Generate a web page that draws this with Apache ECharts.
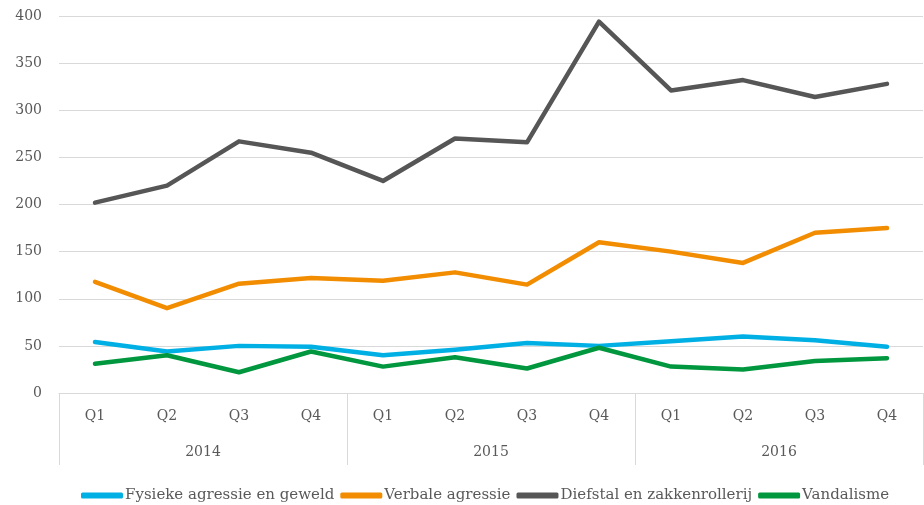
<!DOCTYPE html>
<html>
<head>
<meta charset="utf-8">
<script src="https://cdn.jsdelivr.net/npm/echarts@6/dist/echarts.min.js"></script>
<style>
  html, body { margin: 0; padding: 0; background: #fff; }
  #chart { width: 924px; height: 505px; }
</style>
</head>
<body>
<div id="chart"></div>
<script>
// quarters per year, and the years under them
var quarters = ['Q1', 'Q2', 'Q3', 'Q4', 'Q1', 'Q2', 'Q3', 'Q4', 'Q1', 'Q2', 'Q3', 'Q4'];
var years = ['2014', '2015', '2016'];

var fysiek = [54, 44, 50, 49, 40, 46, 53, 50, 55, 60, 56, 49];
var verbaal = [118, 90, 116, 122, 119, 128, 115, 160, 150, 138, 170, 175];
var diefstal = [202, 220, 267, 255, 225, 270, 266, 394, 321, 332, 314, 328];
var vandalisme = [31, 40, 22, 44, 28, 38, 26, 48, 28, 25, 34, 37];

var font = 'DejaVu Serif';
var gridColor = '#d9d9d9';
var textColor = '#595959';

function lineSerie(name, data, color) {
  return {
    name: name,
    type: 'line',
    data: data,
    xAxisIndex: 0,
    symbol: 'none',
    lineStyle: { width: 4.5, color: color, cap: 'round', join: 'round' },
    itemStyle: { color: color }
  };
}

var chart = echarts.init(document.getElementById('chart'));
chart.setOption({
  animation: false,
  textStyle: { fontFamily: font },
  grid: { left: 59, right: 1, top: 16, bottom: 112 },
  legend: {
    top: 483,
    left: 76,
    icon: 'roundRect',
    itemWidth: 42,
    itemHeight: 6,
    itemGap: 6,
    textStyle: { fontFamily: font, fontSize: 15, color: textColor, padding: [0, 0, 0, -3] },
    data: ['Fysieke agressie en geweld', 'Verbale agressie', 'Diefstal en zakkenrollerij', 'Vandalisme']
  },
  xAxis: [
    {
      type: 'category',
      data: quarters,
      axisLine: { lineStyle: { color: gridColor, width: 1 } },
      axisTick: { show: false },
      axisLabel: { color: textColor, fontSize: 14, margin: 16, interval: 0 }
    },
    {
      type: 'category',
      data: years,
      position: 'bottom',
      axisLine: { show: false },
      axisTick: { show: true, length: 72, interval: 0, lineStyle: { color: gridColor } },
      axisLabel: { color: textColor, fontSize: 14, margin: 52, interval: 0 }
    }
  ],
  yAxis: {
    type: 'value',
    min: 0,
    max: 400,
    interval: 50,
    axisLine: { show: false },
    axisTick: { show: false },
    splitLine: { lineStyle: { color: gridColor, width: 1 } },
    axisLabel: { color: textColor, fontSize: 14, margin: 17 }
  },
  series: [
    lineSerie('Fysieke agressie en geweld', fysiek, '#00b0e4'),
    lineSerie('Verbale agressie', verbaal, '#f28c00'),
    lineSerie('Diefstal en zakkenrollerij', diefstal, '#565656'),
    lineSerie('Vandalisme', vandalisme, '#00973f')
  ]
});
</script>
</body>
</html>
